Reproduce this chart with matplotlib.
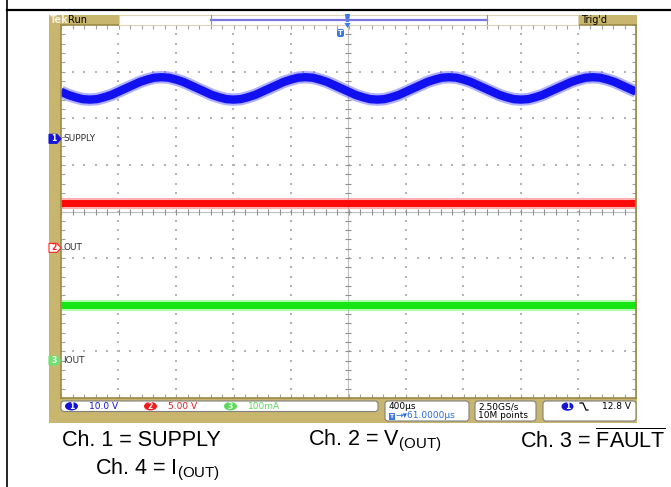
import matplotlib.pyplot as plt
import numpy as np
from matplotlib.patches import Rectangle, FancyBboxPatch, Ellipse, Polygon

plt.rcParams['font.family'] = ['DejaVu Sans']
plt.rcParams['mathtext.fontset'] = 'custom'
plt.rcParams['mathtext.rm'] = 'Liberation Sans'
plt.rcParams['mathtext.it'] = 'Liberation Sans:italic'
plt.rcParams['mathtext.bf'] = 'Liberation Sans:bold'

# scope settings: 400 us/div, 10 x 8 divisions
us_per_div = 400
ch_names = ['SUPPLY', 'OUT', 'IOUT']
ch_scale = [10.0, 5.0, 100.0]      # V/div, V/div, mA/div
ch_ground = [1.56, -0.78, -3.2]    # ground marker, divisions from centre

# ch1 supply (V), sampled every 50 us
t_us = list(range(-2000, 2001, 50))
supply_v = [10.1, 9.4, 8.9, 8.5, 8.4, 8.5, 8.9, 9.4, 10.1, 10.8,
            11.5, 12.2, 12.7, 13.1, 13.2, 13.1, 12.7, 12.2, 11.5, 10.8,
            10.1, 9.4, 8.9, 8.5, 8.4, 8.5, 8.9, 9.4, 10.1, 10.8,
            11.5, 12.2, 12.7, 13.1, 13.2, 13.1, 12.7, 12.2, 11.5, 10.8,
            10.1, 9.4, 8.9, 8.5, 8.4, 8.5, 8.9, 9.4, 10.1, 10.8,
            11.5, 12.2, 12.7, 13.1, 13.2, 13.1, 12.7, 12.2, 11.5, 10.8,
            10.1, 9.4, 8.9, 8.5, 8.4, 8.5, 8.9, 9.4, 10.1, 10.8,
            11.5, 12.2, 12.7, 13.1, 13.2, 13.1, 12.7, 12.2, 11.5, 10.8,
            10.1]
# ch2 output voltage (V) and ch3 current (mA)
flat_t = [-2000, 2000]
vout_v = [4.8, 4.8]
iout_ma = [120, 120]

fig = plt.figure(figsize=(6.71, 4.87), dpi=100)

# background: page frame and khaki scope bezel
bg = fig.add_axes([0, 0, 1, 1], zorder=0)
bg.set_xlim(0, 671)
bg.set_ylim(487, 0)
bg.axis('off')
bg.plot([7, 671], [10, 10], color='black', lw=1.6)
bg.plot([7, 7], [0, 487], color='black', lw=1.2)
bg.add_patch(Rectangle((49, 15), 588, 408, fc='#c9b66e', ec='none'))

# graticule
ax = fig.add_axes([61 / 671, 1 - 398 / 487, 575 / 671, 373 / 487], zorder=1)
ax.set_facecolor('white')
ax.set_xlim(-5, 5)
ax.set_ylim(-4, 4)
ax.set_xticks(np.arange(-5, 5.01, 0.2))
ax.set_yticks(np.arange(-4, 4.01, 0.2))
ax.tick_params(direction='in', length=3, width=0.8, color='#a0a0a0',
               top=True, right=True, labelbottom=False, labelleft=False)
for s in ax.spines.values():
    s.set_color('#9c8a48')
    s.set_linewidth(1.2)

dots_x, dots_y = [], []
for i in range(-4, 5):
    if i == 0:
        continue
    for k in np.arange(-4, 4.01, 0.2):
        dots_x.append(i)
        dots_y.append(k)
for j in range(-3, 4):
    if j == 0:
        continue
    for k in np.arange(-5, 5.01, 0.2):
        dots_x.append(k)
        dots_y.append(j)
ax.scatter(dots_x, dots_y, s=0.6, marker='s', color='#b4b4b4', lw=0)
ax.axhline(0, color='#c0c0c0', lw=0.8)
ax.axvline(0, color='#c0c0c0', lw=0.8)
cx = np.arange(-5, 5.01, 0.2)
cy = np.arange(-4, 4.01, 0.2)
ax.plot(cx, np.zeros_like(cx), '|', ms=5, color='#909090', mew=0.8)
ax.plot(np.zeros_like(cy), cy, '_', ms=5, color='#909090', mew=0.8)

# traces
tx = [t / us_per_div for t in t_us]
fx = [t / us_per_div for t in flat_t]
y1 = [ch_ground[0] + v / ch_scale[0] for v in supply_v]
y2 = [ch_ground[1] + v / ch_scale[1] for v in vout_v]
y3 = [ch_ground[2] + v / ch_scale[2] for v in iout_ma]
ax.plot(tx, y1, color='#5050ff', lw=9, alpha=0.45, solid_capstyle='butt')
ax.plot(tx, y1, color='#1010f0', lw=6, solid_capstyle='butt')
ax.plot(fx, y2, color='#ff6060', lw=8, alpha=0.5, solid_capstyle='butt')
ax.plot(fx, y2, color='#ff0a0a', lw=5, solid_capstyle='butt')
ax.plot(fx, y3, color='#60ff60', lw=8, alpha=0.5, solid_capstyle='butt')
ax.plot(fx, y3, color='#14e614', lw=5, solid_capstyle='butt')

# foreground annotations in pixel coordinates
fg = fig.add_axes([0, 0, 1, 1], zorder=2)
fg.set_xlim(0, 671)
fg.set_ylim(487, 0)
fg.axis('off')
fg.patch.set_alpha(0)

sm = 6.5
# header
fg.text(50, 20, 'Tek', color='#f6f2e2', fontsize=7, fontweight='bold', va='center')
fg.text(68, 20, 'Run', color='black', fontsize=7, va='center')
fg.text(581, 20, "Trig'd", color='black', fontsize=7, va='center')
fg.add_patch(Rectangle((119, 15), 459, 9.5, fc='white', ec='#dcd4b8', lw=0.8))
fg.plot([211, 487], [19.5, 19.5], color='#7878e0', lw=1.6)
fg.plot([211, 211], [15, 24], color='#909090', lw=0.8)
fg.plot([487, 487], [15, 24], color='#909090', lw=0.8)
fg.add_patch(Polygon([[345, 14], [350, 14], [349, 22], [346, 22]], fc='#3a78e8', ec='none'))
fg.add_patch(Polygon([[344.5, 23], [350.5, 23], [347.5, 28]], fc='#3a78e8', ec='none'))
fg.add_patch(FancyBboxPatch((337, 29), 7, 8, boxstyle='round,pad=0,rounding_size=2',
                            fc='#3a78e8', ec='none'))
fg.text(340.5, 33, 'T', color='white', fontsize=5, fontweight='bold', ha='center', va='center')

# ground markers and channel labels
marker_fc = ['#1414d8', 'white', '#70e070']
marker_ec = ['#1414d8', '#ff2020', '#70e070']
marker_tc = ['white', '#ff2020', 'white']
for n in range(3):
    gy = 211.5 - ch_ground[n] * 46.6
    fg.add_patch(Polygon([[49, gy - 4.5], [57, gy - 4.5], [61, gy], [57, gy + 4.5], [49, gy + 4.5]],
                         fc=marker_fc[n], ec=marker_ec[n], lw=0.8))
    fg.text(54, gy, str(n + 1), color=marker_tc[n], fontsize=5.5, fontweight='bold',
            ha='center', va='center')
    fg.text(63, gy, ch_names[n], color='#303030', fontsize=6.5, va='center')

# status bar
def box(x0, x1, y0, y1):
    fg.add_patch(FancyBboxPatch((x0, y0), x1 - x0, y1 - y0,
                                boxstyle='round,pad=0,rounding_size=3',
                                fc='white', ec='#808080', lw=0.8))

box(61, 378, 401, 411.5)
box(385, 469, 401, 421)
box(475, 536, 401, 421)
box(543, 636, 401, 421)

ch_colors = ['#1414d8', '#ee1c1c', '#5ada5a']
ch_txt = ['10.0 V', '5.00 V', '100mA']
circ_x = [71.5, 150.5, 230.5]
txt_x = [89, 168, 248]
for n in range(3):
    fg.add_patch(Ellipse((circ_x[n], 406.2), 13, 8.5, fc=ch_colors[n], ec='none'))
    fg.text(circ_x[n], 406.2, str(n + 1), color='white', fontsize=5.5, fontweight='bold',
            ha='center', va='center')
    fg.text(txt_x[n], 406.2, ch_txt[n], color=ch_colors[n], fontsize=sm, va='center')

fg.text(389, 406.5, '400\u00b5s', color='black', fontsize=sm, va='center')
fg.add_patch(Rectangle((388.5, 412.5), 6, 7, fc='#3a78e8', ec='none'))
fg.text(391.5, 416, 'T', color='white', fontsize=4.5, fontweight='bold', ha='center', va='center')
fg.text(395, 416, '\u2192\u25be61.0000\u00b5s', color='#2a6ae0', fontsize=sm, va='center')
fg.text(478, 406.5, '2.50GS/s', color='black', fontsize=sm, va='center')
fg.text(478, 416, '10M points', color='black', fontsize=sm, va='center')
fg.add_patch(Ellipse((567.5, 406.5), 12, 8.5, fc='#1414d8', ec='none'))
fg.text(567.5, 406.5, '1', color='white', fontsize=5.5, fontweight='bold', ha='center', va='center')
fg.plot([580, 583, 586, 588], [403, 403, 410, 410], color='black', lw=0.9)
fg.text(631, 406.5, '12.8 V', color='black', fontsize=sm, va='center', ha='right')

# caption
cap = dict(fontsize=15.5, family='Liberation Sans', va='center', color='black')
fg.text(62, 441, 'Ch. 1 = SUPPLY', **cap)
fg.text(308, 441, 'Ch. 2 = V$_{\\mathrm{(OUT)}}$', **cap)
fg.text(520, 441, 'Ch. 3 = $\\overline{\\mathrm{FAULT}}$', **cap)
fg.text(95, 470, 'Ch. 4 = I$_{\\mathrm{(OUT)}}$', **cap)

fig.savefig('out.png', dpi=100)
